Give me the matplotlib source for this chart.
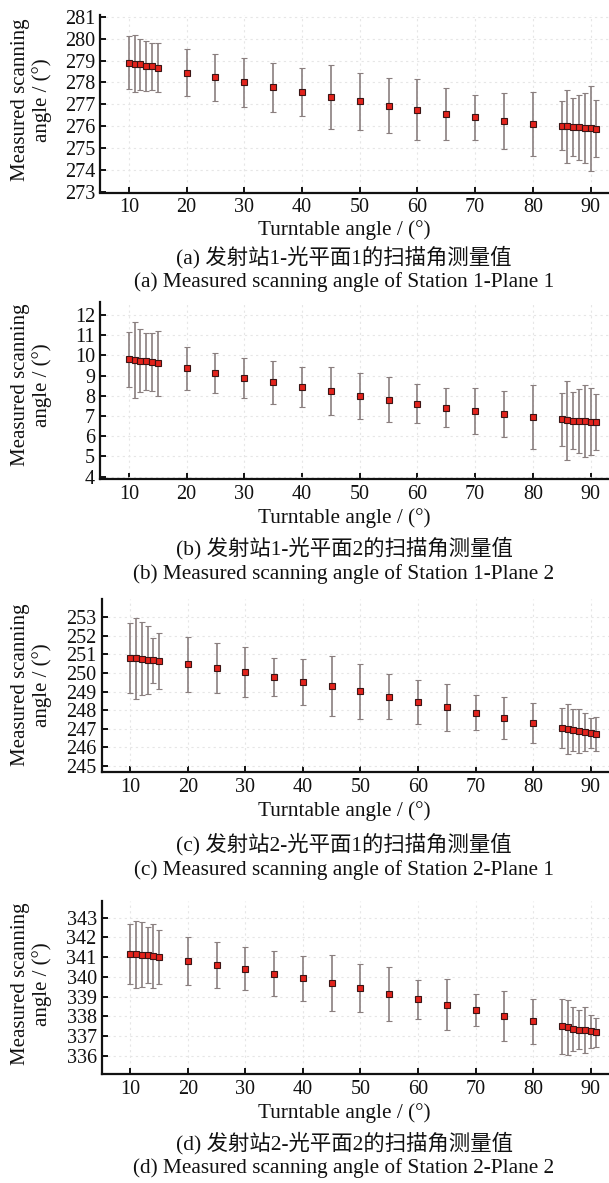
import matplotlib
matplotlib.use("Agg")
import matplotlib.pyplot as plt
import numpy as np

# ---------------- data ----------------
turntable = [10, 11, 12, 13, 14, 15, 20, 25, 30, 35, 40, 45, 50, 55, 60, 65, 70, 75, 80,
             85, 86, 87, 88, 89, 90, 91]

a_mean = [278.90, 278.85, 278.82, 278.77, 278.73, 278.68, 278.45, 278.23, 278.01, 277.78,
          277.55, 277.34, 277.14, 276.94, 276.76, 276.56, 276.41, 276.25, 276.12,
          276.02, 275.99, 275.97, 275.94, 275.92, 275.91, 275.89]
a_err = [1.20, 1.31, 1.18, 1.14, 1.07, 1.11, 1.09, 1.08, 1.12, 1.12, 1.10, 1.47, 1.30, 1.27,
         1.39, 1.19, 1.02, 1.28, 1.46, 1.11, 1.67, 1.31, 1.49, 1.61, 1.94, 1.32]

b_mean = [9.82, 9.78, 9.74, 9.71, 9.66, 9.61, 9.36, 9.13, 8.90, 8.67, 8.44, 8.22, 7.99, 7.81,
          7.61, 7.42, 7.25, 7.10, 6.95, 6.84, 6.79, 6.77, 6.76, 6.74, 6.72, 6.69]
b_err = [1.36, 1.87, 1.55, 1.41, 1.44, 1.62, 1.07, 0.99, 0.99, 1.06, 0.97, 1.19, 1.16, 1.11,
         0.96, 0.95, 1.12, 1.16, 1.57, 1.31, 1.95, 1.40, 1.57, 1.78, 1.66, 1.38]

c_mean = [250.81, 250.79, 250.76, 250.72, 250.68, 250.65, 250.47, 250.26, 250.04, 249.79,
          249.54, 249.31, 249.02, 248.73, 248.44, 248.16, 247.87, 247.58, 247.31,
          247.03, 246.99, 246.92, 246.87, 246.83, 246.78, 246.71]
c_err = [1.87, 2.17, 1.96, 1.83, 1.21, 1.51, 1.48, 1.35, 1.34, 1.02, 1.24, 1.61, 1.49, 1.23,
         1.20, 1.26, 0.96, 1.14, 1.07, 1.08, 1.34, 1.13, 1.19, 1.00, 0.81, 0.93]

d_mean = [341.17, 341.14, 341.12, 341.09, 341.06, 341.00, 340.82, 340.62, 340.41, 340.16,
          339.92, 339.69, 339.43, 339.15, 338.87, 338.59, 338.32, 338.03, 337.74,
          337.49, 337.44, 337.37, 337.32, 337.29, 337.23, 337.18]
d_err = [1.51, 1.69, 1.64, 1.42, 1.63, 1.35, 1.21, 1.16, 1.08, 1.13, 1.15, 1.40, 1.23, 1.37,
         0.99, 1.28, 0.81, 1.26, 1.14, 1.40, 1.39, 1.11, 1.00, 1.17, 0.86, 0.72]

x_ticks = [10, 20, 30, 40, 50, 60, 70, 80, 90]
a_yticks = list(range(273, 282))
b_yticks = list(range(4, 13))
c_yticks = list(range(245, 254))
d_yticks = list(range(336, 344))

ylabel_text = "Measured scanning\nangle / (°)"
xlabel_text = "Turntable angle / (°)"
cn_captions = ["(a) 发射站1-光平面1的扫描角测量值",
               "(b) 发射站1-光平面2的扫描角测量值",
               "(c) 发射站2-光平面1的扫描角测量值",
               "(d) 发射站2-光平面2的扫描角测量值"]
en_captions = ["(a) Measured scanning angle of Station 1-Plane 1",
               "(b) Measured scanning angle of Station 1-Plane 2",
               "(c) Measured scanning angle of Station 2-Plane 1",
               "(d) Measured scanning angle of Station 2-Plane 2"]

# ---------------- layout ----------------
W, H = 609, 1183
plt.rcParams['font.family'] = ['Liberation Serif', 'Noto Sans CJK SC', 'DejaVu Sans']

fig = plt.figure(figsize=(W / 100, H / 100), dpi=100)

panels = [
    # left_px, top_px, bottom_px, ylim, yticks, mean, err, ylabel_center, xlab_y, cn_y, en_y
    (100, 15.0, 192.5, (272.97, 281.08), a_yticks, a_mean, a_err, 100, 230, 256.7, 281.7),
    (100, 301.7, 479.3, (3.87, 12.66), b_yticks, b_mean, b_err, 385, 518.3, 548.3, 574),
    (101.5, 599.0, 772.3, (244.66, 253.98), c_yticks, c_mean, c_err, 685, 811, 844.3, 870),
    (101.5, 900.7, 1074.3, (335.06, 343.86), d_yticks, d_mean, d_err, 984, 1113.3, 1143.3, 1168.3),
]

def fy(px):
    return 1 - px / H

for i, (lp, tp, bp, ylim, yticks, mean, err, ylc, xly, cny, eny) in enumerate(panels):
    ax = fig.add_axes([lp / W, fy(bp), (W - lp) / W, (bp - tp) / H])
    ax.set_xlim(5, 93.2)
    ax.set_ylim(*ylim)
    ax.set_xticks(x_ticks)
    ax.set_yticks(yticks)
    ax.grid(True, color='#e6e6e6', linestyle=(0, (2, 3)), linewidth=0.8)
    ax.set_axisbelow(True)
    for s in ['top', 'right']:
        ax.spines[s].set_visible(False)
    for s in ['left', 'bottom']:
        ax.spines[s].set_linewidth(1.6)
        ax.spines[s].set_color('#111111')
    ax.tick_params(direction='in', length=4, width=1.4, labelsize=14.5, colors='#111111')
    ax.tick_params(axis='x', pad=4)
    ax.tick_params(axis='y', pad=3.5)
    ax.errorbar(turntable, mean, yerr=err, fmt='s', markersize=4.5,
                markerfacecolor='#e3231c', markeredgecolor='#3a1515', markeredgewidth=0.8,
                ecolor='#8a7f7f', elinewidth=1.2, capsize=2.5, capthick=1.0, zorder=3)

    fig.text(31.5 / W, fy(ylc), ylabel_text, rotation=90, ha='center', va='center',
             fontsize=15, linespacing=1.15, color='#111111')
    fig.text(344 / W, fy(xly), xlabel_text, ha='center', va='center',
             fontsize=15.3, color='#111111')
    fig.text(344 / W, fy(cny), cn_captions[i], ha='center', va='center',
             fontsize=15.4, color='#111111')
    fig.text(344 / W, fy(eny), en_captions[i], ha='center', va='center',
             fontsize=15.3, color='#111111')

fig.savefig("out.png", dpi=100)
